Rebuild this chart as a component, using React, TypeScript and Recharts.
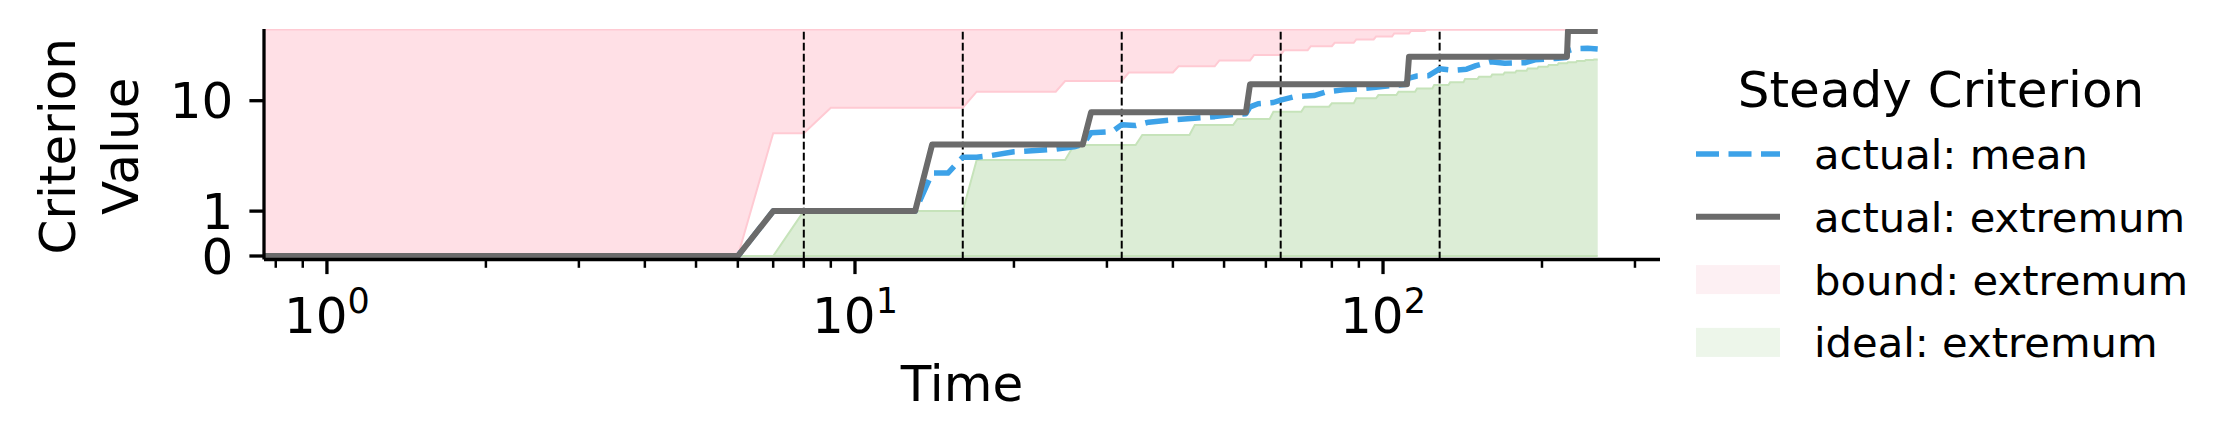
import React from "react"
import { Area, ComposedChart, Line, ReferenceLine, XAxis, YAxis } from "recharts"

const W = 2233
const H = 446
const FONT = '"DejaVu Sans", sans-serif'

// t = 0 can't sit on a log axis, 0.5 stands in for it (clipped off the left edge)
const T0 = 0.5

const boundTime = [T0, 6, 7, 8, 9, 16, 17, 24, 25, 32, 33, 40, 41, 48, 49, 56, 57, 64, 65, 72, 73, 80, 81, 88, 89, 96, 97, 104, 105, 112, 113, 120, 121, 255]
const boundLow = [0, 0, 5.65, 5.65, 8.87, 8.87, 11.64, 11.64, 13.91, 13.91, 16.0, 16.0, 17.7, 17.7, 19.5, 19.5, 21.3, 21.3, 23.0, 23.0, 24.5, 24.5, 25.9, 25.9, 27.3, 27.3, 28.6, 28.6, 30.1, 30.1, 31.3, 31.3, 32, 32]
const boundHigh = 32

const idealTime = [T0, 7, 8, 16, 17, 25, 26, 34, 35, 43, 44, 52, 53, 61, 62, 70, 71, 79, 80, 88, 89, 97, 98, 106, 107, 115, 116, 124, 125, 133, 134, 142, 143, 151, 152, 160, 161, 169, 170, 178, 179, 187, 188, 196, 197, 205, 206, 214, 215, 223, 224, 232, 233, 241, 242, 250, 251, 255]
const idealHigh = [0, 0, 1, 1, 3.4, 3.4, 4.55, 4.55, 5.48, 5.48, 6.56, 6.56, 7.29, 7.29, 8.28, 8.28, 9.02, 9.02, 9.56, 9.56, 10.41, 10.41, 11.0, 11.0, 11.64, 11.64, 12.3, 12.3, 13.0, 13.0, 13.6, 13.6, 14.4, 14.4, 14.9, 14.9, 15.5, 15.5, 16.0, 16.0, 16.5, 16.5, 17.1, 17.1, 17.6, 17.6, 18.1, 18.1, 18.6, 18.6, 18.9, 18.9, 19.3, 19.3, 19.6, 19.6, 19.8, 19.8]

const meanTime = [T0, 6, 7, 13, 14, 15, 16, 17, 18, 20, 22, 24, 26, 27, 28, 30, 31, 32, 34, 36, 40, 44, 48, 52, 55, 56, 58, 62, 64, 68, 74, 78, 84, 90, 96, 104, 110, 112, 116, 122, 128, 136, 144, 150, 160, 170, 186, 194, 212, 222, 224, 232, 244, 255]
const meanValue = [0, 0, 1, 1, 2.6, 2.6, 3.6, 3.6, 3.7, 4.0, 4.1, 4.2, 4.4, 4.6, 5.7, 5.8, 6.0, 6.6, 6.5, 6.9, 7.2, 7.4, 7.6, 7.9, 8.0, 9.0, 9.5, 9.7, 10.1, 10.7, 10.9, 11.6, 12.0, 12.2, 12.5, 12.9, 13.1, 14.6, 15.1, 15.2, 17.0, 16.6, 16.9, 17.9, 19.1, 18.6, 18.8, 19.7, 20.1, 20.4, 22.8, 23.6, 23.7, 23.4]

const extremumTime = [T0, 6, 7, 13, 14, 27, 28, 55, 56, 111, 112, 223, 224, 255]
const extremumValue = [0, 0, 1, 1, 4.6, 4.6, 8.2, 8.2, 13.2, 13.2, 20.7, 20.7, 31.3, 31.3]

const generationMarks = [8, 16, 32, 64, 128]
const majorTicks = [1, 10, 100]
const minorTicks = [0.8, 0.9, 2, 3, 4, 5, 6, 7, 8, 9, 20, 30, 40, 50, 60, 70, 80, 90, 200, 300]
const yTicks = [0, 1, 10]

const boundData = boundTime.map((t, i) => ({ t, lo: boundLow[i], hi: boundHigh }))
const idealData = idealTime.map((t, i) => ({ t, lo: 0, hi: idealHigh[i] }))
const meanData = meanTime.map((t, i) => ({ t, v: meanValue[i] }))
const extremumData = extremumTime.map((t, i) => ({ t, v: extremumValue[i] }))

const BLUE = "#3da2e8"
const GRAY = "#6b6b6b"

function TimeTick({ x, y, payload }: any) {
  const major = majorTicks.includes(payload.value)
  return (
    <g>
      <line x1={x} x2={x} y1={y} y2={y + (major ? 14.6 : 8.3)} stroke="#000" strokeWidth={major ? 3.3 : 2.5} />
      {major && (
        <text x={x} y={y + 73.5} textAnchor="middle" fontSize={50} fontFamily={FONT} fill="#000">
          10
          <tspan dy={-20} fontSize={35}>
            {Math.round(Math.log10(payload.value))}
          </tspan>
        </text>
      )}
    </g>
  )
}

function LegendBox() {
  const rows = [
    { label: "actual: mean", kind: "dash" },
    { label: "actual: extremum", kind: "line" },
    { label: "bound: extremum", kind: "pink" },
    { label: "ideal: extremum", kind: "green" },
  ]
  return (
    <svg width={W} height={H} style={{ position: "absolute", left: 0, top: 0, pointerEvents: "none" }}>
      <text x={1941} y={106.7} textAnchor="middle" fontSize={50} fontFamily={FONT} fill="#000">
        Steady Criterion
      </text>
      {rows.map((r, i) => {
        const cy = 154 + i * 62.8
        return (
          <g key={r.label}>
            {r.kind === "dash" && (
              <line x1={1696} x2={1780} y1={cy} y2={cy} stroke={BLUE} strokeWidth={5.5} strokeDasharray="23 9.5" />
            )}
            {r.kind === "line" && <line x1={1696} x2={1780} y1={cy} y2={cy} stroke={GRAY} strokeWidth={6} />}
            {r.kind === "pink" && <rect x={1696} y={cy - 14.5} width={84} height={29} fill="#fdf0f3" />}
            {r.kind === "green" && <rect x={1696} y={cy - 14.5} width={84} height={29} fill="#edf6ea" />}
            <text x={1814} y={cy + 15} fontSize={41.7} fontFamily={FONT} fill="#000">
              {r.label}
            </text>
          </g>
        )
      })}
    </svg>
  )
}

export default function App() {
  return (
    <div style={{ position: "absolute", left: 0, top: 0, width: W, height: H, background: "#fff" }}>
      <ComposedChart width={W} height={H} margin={{ top: 29, right: 573, bottom: 126.5, left: 164 }}>
        <XAxis
          dataKey="t"
          type="number"
          scale="log"
          domain={[0.76, 334.6]}
          allowDataOverflow
          ticks={[...minorTicks, ...majorTicks].sort((a, b) => a - b)}
          interval={0}
          tickSize={0}
          tickMargin={0}
          tickLine={false}
          tick={<TimeTick />}
          height={60}
          axisLine={{ stroke: "#000", strokeWidth: 3.3 }}
          label={{
            content: ({ viewBox }: any) => (
              <text
                x={viewBox.x + viewBox.width / 2}
                y={viewBox.y + 141}
                textAnchor="middle"
                fontSize={50}
                fontFamily={FONT}
                fill="#000"
              >
                Time
              </text>
            ),
          }}
        />
        <YAxis
          type="number"
          scale="symlog"
          domain={[-0.0555, 32.28]}
          allowDataOverflow
          ticks={yTicks}
          interval={0}
          width={100}
          tickSize={14.6}
          tickMargin={16}
          tickLine={{ stroke: "#000", strokeWidth: 3.3 }}
          axisLine={{ stroke: "#000", strokeWidth: 3.3 }}
          tick={{ fontSize: 50, fill: "#000", fontFamily: FONT }}
          label={{
            content: ({ viewBox }: any) => {
              const cy = viewBox.y + viewBox.height / 2 + 2
              return (
                <g fontSize={50} fontFamily={FONT} fill="#000">
                  <text x={75} y={cy} transform={`rotate(-90 75 ${cy})`} textAnchor="middle">
                    Criterion
                  </text>
                  <text x={138} y={cy} transform={`rotate(-90 138 ${cy})`} textAnchor="middle">
                    Value
                  </text>
                </g>
              )
            },
          }}
        />
        <Area
          data={boundData}
          dataKey={(d: any) => [d.lo, d.hi]}
          type="linear"
          fill="#ffe0e6"
          fillOpacity={1}
          stroke="#ffcad3"
          strokeWidth={2}
          dot={false}
          activeDot={false}
          isAnimationActive={false}
        />
        <Area
          data={idealData}
          dataKey={(d: any) => [d.lo, d.hi]}
          type="linear"
          fill="#dcedd6"
          fillOpacity={1}
          stroke="#c6e3ba"
          strokeWidth={2}
          dot={false}
          activeDot={false}
          isAnimationActive={false}
        />
        {generationMarks.map((g) => (
          <ReferenceLine key={g} x={g} stroke="#000" strokeWidth={2} strokeDasharray="7.7 3.3" />
        ))}
        <Line
          data={meanData}
          dataKey="v"
          type="linear"
          stroke={BLUE}
          strokeWidth={5.5}
          strokeDasharray="23 9.5"
          strokeLinejoin="round"
          dot={false}
          activeDot={false}
          isAnimationActive={false}
        />
        <Line
          data={extremumData}
          dataKey="v"
          type="linear"
          stroke={GRAY}
          strokeWidth={6}
          strokeLinejoin="round"
          dot={false}
          activeDot={false}
          isAnimationActive={false}
        />
      </ComposedChart>
      <LegendBox />
    </div>
  )
}
